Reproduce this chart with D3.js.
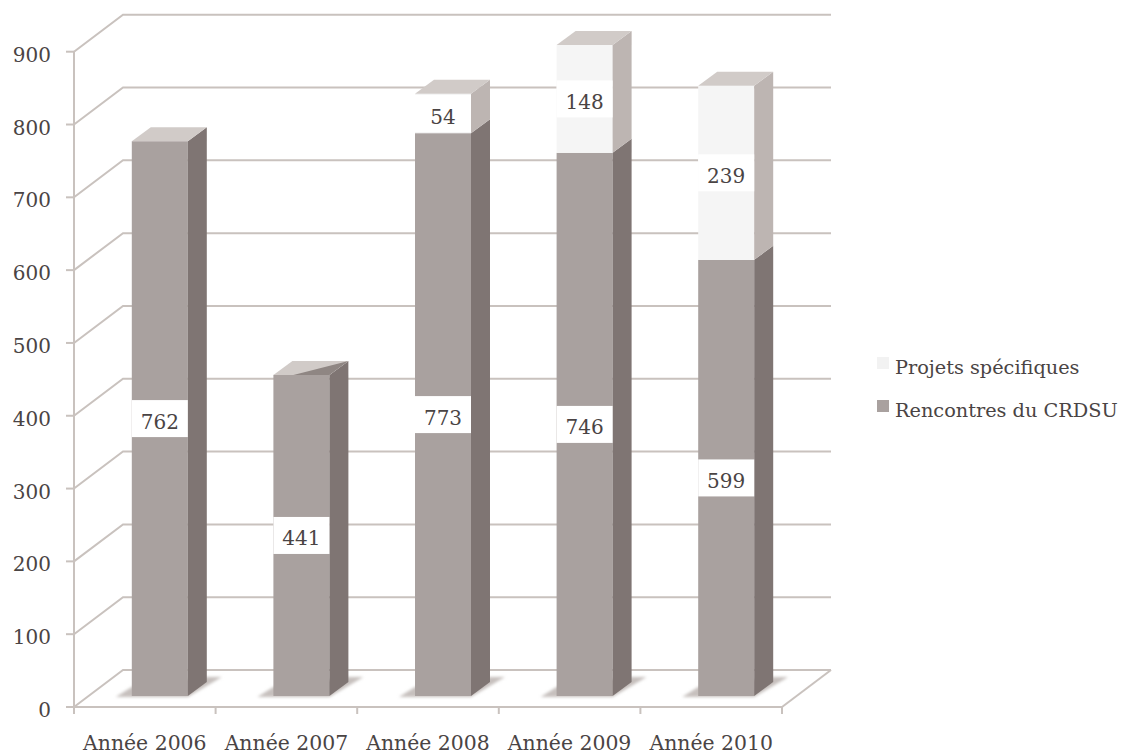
<!DOCTYPE html>
<html><head><meta charset="utf-8">
<script src="https://cdn.jsdelivr.net/npm/d3@7/dist/d3.min.js"></script>
<style>html,body{margin:0;padding:0;background:#fff}svg{display:block}
text{font-family:"DejaVu Serif",serif;fill:#4a4444;}</style></head><body>
<svg id="c" width="1122" height="755"></svg>
<script>
const categories=["Année 2006","Année 2007","Année 2008","Année 2009","Année 2010"];
const rencontres=[762,441,773,746,599];
const projets=[0,0,54,148,239];
const rencontresLabels=["762","441","773","746","599"];
const projetsLabels=[null,null,"54","148","239"];
const yTicks=[0,100,200,300,400,500,600,700,800,900];
const legendItems=["Projets spécifiques","Rencontres du CRDSU"];
const wedgeBars=["Année 2007"];

const svg=d3.select("#c");
const grid="#c9c2be";
const x=d3.scaleBand().domain(categories).range([74,782]).paddingInner(0).paddingOuter(0);
const y=d3.scaleLinear().domain([0,900]).range([707,51.7]);
const backDx=49, backDy=-37, midDx=15, midDy=-11, depthX=19, depthY=-14, barW=56;

const defs=svg.append("defs");
defs.append("filter").attr("id","soft").attr("x","-20%").attr("y","-50%").attr("width","140%").attr("height","200%")
  .append("feGaussianBlur").attr("stdDeviation",1.8);

// grid
const g=svg.append("g").attr("fill","none").attr("stroke",grid).attr("stroke-width",2);
yTicks.forEach(t=>{
  g.append("path").attr("d",d3.line()([[x.range()[0],y(t)],[x.range()[0]+backDx,y(t)+backDy],[x.range()[1]+backDx,y(t)+backDy]]));
  g.append("line").attr("x1",66).attr("x2",74).attr("y1",y(t)).attr("y2",y(t));
});
g.append("line").attr("x1",74).attr("x2",74).attr("y1",y(900)).attr("y2",y(0)+7);
g.append("line").attr("x1",74).attr("x2",782).attr("y1",y(0)).attr("y2",y(0));
g.append("path").attr("d",d3.line()([[782,y(0)],[782+backDx,y(0)+backDy]]));
d3.range(categories.length+1).forEach(i=>{
  const xx=74+i*x.step();
  g.append("line").attr("x1",xx).attr("x2",xx).attr("y1",y(0)).attr("y2",y(0)+7);
});

const yb=v=>y(v)+midDy;
const bars=svg.append("g");
categories.forEach((c,i)=>{
  const x0=x(c)+x.bandwidth()/2+midDx-barW/2, x1=x0+barW;
  const b0=yb(0);
  bars.append("path").attr("fill","#c6c0bd").attr("filter","url(#soft)")
    .attr("d",d3.line()([[x0-16,b0+1],[x1,b0+1],[x1+34,b0-19],[x1+19,b0-19],[x0,b0-9]]));
  const seg=(v0,v1,front,side)=>{
    const t=yb(v1), u=yb(v0);
    bars.append("rect").attr("x",x0).attr("y",t).attr("width",barW).attr("height",u-t).attr("fill",front);
    bars.append("path").attr("fill",side).attr("d",d3.line()([[x1,u],[x1+depthX,u+depthY],[x1+depthX,t+depthY],[x1,t]]));
  };
  const r=rencontres[i], p=projets[i];
  seg(0,r,"#a9a19f","#7f7573");
  if(p>0) seg(r,r+p,"#f5f5f5","#bdb5b2");
  const top=yb(r+p);
  bars.append("path").attr("fill","#d1cbc8").attr("d",d3.line()([[x0,top],[x0+depthX,top+depthY],[x1+depthX,top+depthY],[x1,top]]));
  if(wedgeBars.includes(c)) bars.append("path").attr("fill","#8f8683")
    .attr("d",d3.line()([[x0+20,top],[x1+depthX,top+depthY],[x1,top]]));
  const lab=(v0,v1,s)=>{
    const cy=(yb(v0)+yb(v1))/2, cx=(x0+x1)/2;
    const h=Math.min(37,Math.abs(yb(v0)-yb(v1)));
    bars.append("rect").attr("x",x0).attr("y",cy-h/2).attr("width",barW).attr("height",h).attr("fill","#fff");
    bars.append("text").attr("x",cx).attr("y",cy+10).attr("text-anchor","middle").attr("font-size",20).text(s);
  };
  lab(0,r,rencontresLabels[i]);
  if(projetsLabels[i]) lab(r,r+p,projetsLabels[i]);
});

yTicks.forEach(t=>{
  svg.append("text").attr("x",51).attr("y",y(t)+10).attr("text-anchor","end").attr("font-size",20).text(t);
});
categories.forEach(c=>{
  svg.append("text").attr("x",x(c)+x.bandwidth()/2).attr("y",750).attr("text-anchor","middle").attr("font-size",20.4).text(c);
});
const legColors=["#f2f2f2","#a9a19f"];
legendItems.forEach((t,i)=>{
  const ly=363+i*43;
  svg.append("rect").attr("x",877).attr("y",ly-6).attr("width",12).attr("height",12).attr("fill",legColors[i]);
  svg.append("text").attr("x",895).attr("y",ly+11).attr("font-size",19.3).text(t);
});
</script></body></html>
